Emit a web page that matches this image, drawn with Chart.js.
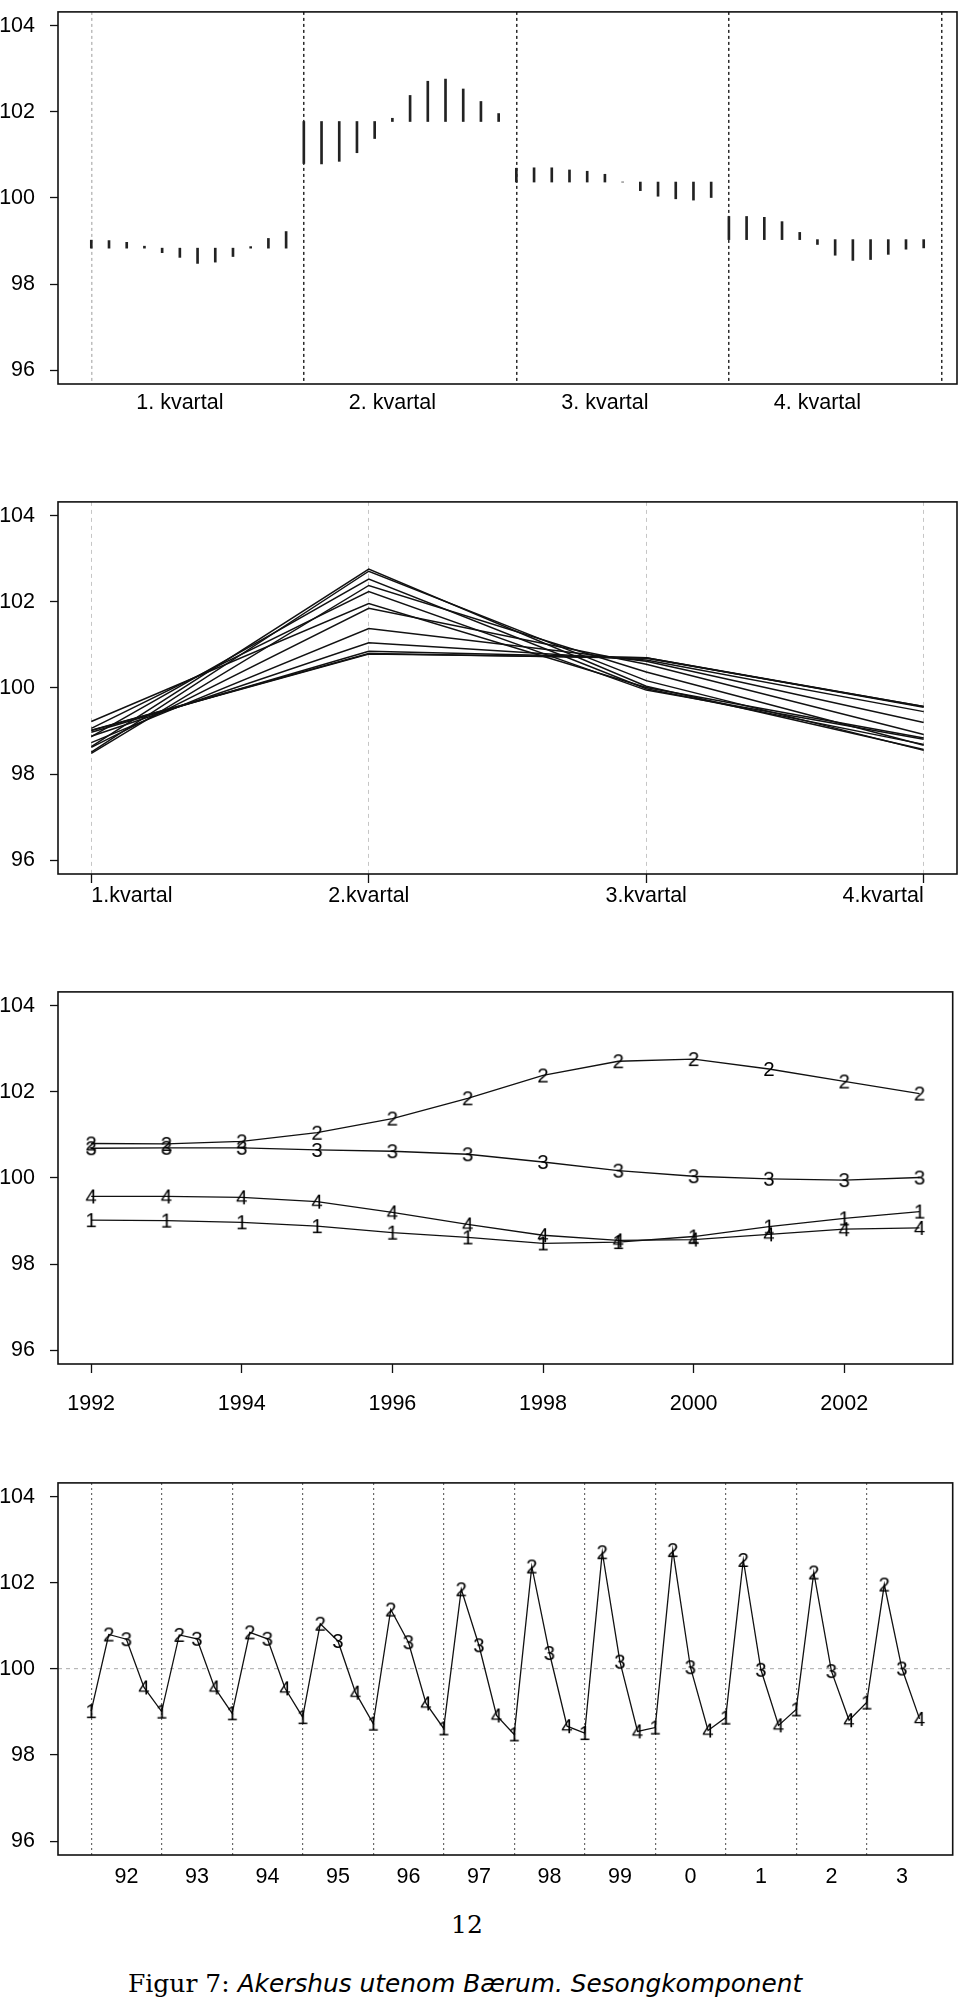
<!DOCTYPE html>
<html>
<head>
<meta charset="utf-8">
<title>Akershus utenom Bærum. Sesongkomponent</title>
<script src="https://cdn.jsdelivr.net/npm/chart.js@4.4.1/dist/chart.umd.min.js"></script>
<style>
  html, body { margin: 0; padding: 0; background: #fff; }
  #page { position: relative; width: 960px; height: 2004px; overflow: hidden; background: #fff; }
  canvas { position: absolute; left: 0; }
  .pageno {
    position: absolute; left: 0; width: 934px; top: 1910px;
    text-align: center; font: 25px "DejaVu Serif", serif; color: #000; line-height: 30px;
  }
  .caption {
    position: absolute; left: 128px; top: 1969px; white-space: nowrap;
    font: 25px "DejaVu Serif", serif; color: #000; line-height: 30px;
  }
  .caption i { font: oblique 24.8px "DejaVu Sans", sans-serif; }
</style>
</head>
<body>
<div id="page">
  <canvas id="cycle" width="960" height="440" style="top:-16px"></canvas>
  <canvas id="profiles" width="960" height="440" style="top:474px"></canvas>
  <canvas id="trends" width="960" height="470" style="top:964px"></canvas>
  <canvas id="series" width="960" height="440" style="top:1455px"></canvas>
  <div class="pageno">12</div>
  <div class="caption">Figur 7: <i>Akershus utenom Bærum. Sesongkomponent</i></div>
</div>
<script>
// seasonal factor per quarter, one value per year 1992-2003
const years = [1992, 1993, 1994, 1995, 1996, 1997, 1998, 1999, 2000, 2001, 2002, 2003];
const q1 = [99.02, 99.01, 98.97, 98.88, 98.73, 98.62, 98.48, 98.51, 98.64, 98.87, 99.06, 99.22];
const q2 = [100.80, 100.79, 100.85, 101.05, 101.38, 101.85, 102.38, 102.71, 102.76, 102.53, 102.24, 101.96];
const q3 = [100.69, 100.70, 100.70, 100.65, 100.62, 100.55, 100.37, 100.17, 100.04, 99.98, 99.95, 100.01];
const q4 = [99.57, 99.57, 99.55, 99.45, 99.20, 98.92, 98.67, 98.55, 98.57, 98.69, 98.81, 98.84];

const cycleLabels = ["1. kvartal", "2. kvartal", "3. kvartal", "4. kvartal"];
const quarterLabels = ["1.kvartal", "2.kvartal", "3.kvartal", "4.kvartal"];
const yearTicks = [1992, 1994, 1996, 1998, 2000, 2002];
const yearLabels = ["92", "93", "94", "95", "96", "97", "98", "99", "0", "1", "2", "3"];
const yTicks = [96, 98, 100, 102, 104];
const digits = ["1", "2", "3", "4"];

const INK = "#111";
const FONT = { family: "'Liberation Sans', Arial, sans-serif", size: 21.5 };
Chart.defaults.font.family = FONT.family;
Chart.defaults.color = "#000";

const quarters = [q1, q2, q3, q4];
const nYears = years.length;
const yPad = (yTicks[yTicks.length - 1] - yTicks[0]) * 0.04;
const yMin = yTicks[0] - yPad;
const yMax = yTicks[yTicks.length - 1] + yPad;

// box round the plot area
const framePlugin = {
  id: "frame",
  afterDraw(chart) {
    const { ctx, chartArea: a } = chart;
    ctx.save();
    ctx.strokeStyle = INK;
    ctx.lineWidth = 1.6;
    ctx.strokeRect(a.left, a.top, a.right - a.left, a.bottom - a.top);
    ctx.restore();
  },
};

function digitImage(d) {
  const c = document.createElement("canvas");
  c.width = 18;
  c.height = 24;
  const g = c.getContext("2d");
  g.font = "20.5px 'Liberation Sans', Arial, sans-serif";
  g.fillStyle = "#000";
  g.textAlign = "center";
  g.textBaseline = "middle";
  g.fillText(d, 9, 13);
  return c;
}
const digitImages = digits.map(digitImage);

function setTicks(values) {
  return (scale) => {
    scale.ticks = values.map((v) => ({ value: v }));
  };
}

function yAxis(grid) {
  return {
    type: "linear",
    min: yMin,
    max: yMax,
    bounds: "data",
    afterFit: (s) => { s.width = 58; },
    afterBuildTicks: setTicks(yTicks),
    ticks: { font: FONT, color: "#000", padding: 15 },
    border: { display: false, dash: grid ? grid.dash : [] },
    grid: Object.assign(
      { drawOnChartArea: false, tickLength: 8, tickColor: INK, tickWidth: 1.3, tickBorderDash: [] },
      grid || {}
    ),
  };
}

function labelAxis(min, max, values, labelFn, opts) {
  return {
    type: "linear",
    position: "bottom",
    min,
    max,
    bounds: "data",
    offset: false,
    afterFit: (s) => { s.height = opts.height; },
    afterBuildTicks: setTicks(values),
    ticks: {
      font: FONT,
      color: "#000",
      padding: opts.padding,
      autoSkip: false,
      maxRotation: 0,
      align: opts.align || "center",
      callback: labelFn,
    },
    border: { display: false, dash: opts.dash || [] },
    grid: {
      offset: false,
      display: opts.ticks || opts.grid ? true : false,
      drawTicks: !!opts.ticks,
      tickLength: 9,
      tickColor: INK,
      tickWidth: 1.3,
      tickBorderDash: [],
      drawOnChartArea: !!opts.grid,
      color: opts.grid || INK,
      lineWidth: 1,
    },
  };
}

function guideAxis(min, max, values, color, dash, width) {
  return {
    type: "linear",
    position: "bottom",
    min,
    max,
    bounds: "data",
    offset: false,
    afterFit: (s) => { s.height = 0; },
    afterBuildTicks: setTicks(values),
    ticks: { display: false },
    border: { display: false, dash },
    grid: { offset: false, drawTicks: false, color, lineWidth: width, borderDash: dash },
  };
}

function baseOptions(scales) {
  return {
    responsive: false,
    animation: false,
    events: [],
    layout: { padding: { top: 20, right: 3, left: 0, bottom: 0 } },
    plugins: { legend: { display: false }, tooltip: { enabled: false } },
    scales,
  };
}

// ---- panel 1: cycle plot, bars from the quarter mean ----
const idxMin = -(quarters.length * nYears - 1) * 0.04;
const idxMax = quarters.length * nYears - 1 - idxMin;
const means = quarters.map((q) => q.reduce((a, b) => a + b, 0) / q.length);
const cycleData = [];
quarters.forEach((q, qi) => {
  q.forEach((v, yi) => cycleData.push({ x: qi * nYears + yi, y: [means[qi], v] }));
});
const cycleLabelPos = quarters.map((_, qi) => qi * nYears + 5);
const cycleBreaks = [0, 1, 2, 3, 4].map((qi) => qi * nYears);

new Chart(document.getElementById("cycle"), {
  type: "bar",
  data: {
    datasets: [{
      data: cycleData,
      backgroundColor: "#222",
      borderWidth: 0,
      barThickness: 2,
      xAxisID: "x",
    }],
  },
  options: baseOptions({
    x: labelAxis(idxMin, idxMax, cycleLabelPos, (v, i) => cycleLabels[i], { height: 40, padding: 6 }),
    xg: guideAxis(idxMin, idxMax, cycleBreaks,
      (ctx) => (ctx.index === 0 ? "#bdbdbd" : "#2a2a2a"), [3, 3], 1.5),
    y: yAxis(),
  }),
  plugins: [framePlugin],
});

// ---- panel 2: one line per year across the quarters ----
const profileSets = years.map((yr, yi) => ({
  data: quarters.map((q, qi) => ({ x: qi + 1, y: q[yi] })),
  borderColor: INK,
  borderWidth: 1.5,
  pointRadius: 0,
  tension: 0,
}));

new Chart(document.getElementById("profiles"), {
  type: "line",
  data: { datasets: profileSets },
  options: baseOptions({
    x: labelAxis(1 - 0.12, 4 + 0.12, [1, 2, 3, 4], (v, i) => quarterLabels[i],
      { height: 40, padding: 0, ticks: true, grid: "#c6c6c6", dash: [4, 4], align: "inner" }),
    y: yAxis(),
  }),
  plugins: [framePlugin],
});

// ---- panel 3: each quarter over the years ----
const yearPad = (years[nYears - 1] - years[0]) * 0.04;
const trendSets = quarters.map((q, qi) => ({
  data: years.map((yr, yi) => ({ x: yr, y: q[yi] })),
  borderColor: INK,
  borderWidth: 1.3,
  pointStyle: digitImages[qi],
  pointRadius: 6,
  tension: 0,
}));

new Chart(document.getElementById("trends"), {
  type: "line",
  data: { datasets: trendSets },
  options: baseOptions({
    x: labelAxis(years[0] - yearPad, years[nYears - 1] + yearPad, yearTicks, (v) => String(v),
      { height: 70, padding: 18, ticks: true }),
    y: yAxis(),
  }),
  plugins: [framePlugin],
});

// ---- panel 4: the quarterly series ----
const seriesData = [];
years.forEach((yr, yi) => {
  quarters.forEach((q, qi) => seriesData.push({ x: yi * 4 + qi, y: q[yi] }));
});
const seriesLabelPos = years.map((_, yi) => yi * 4 + 2);
const seriesBreaks = years.map((_, yi) => yi * 4);

new Chart(document.getElementById("series"), {
  type: "line",
  data: {
    datasets: [{
      data: seriesData,
      borderColor: INK,
      borderWidth: 1.3,
      pointStyle: (ctx) => digitImages[ctx.dataIndex % 4],
      pointRadius: 6,
      tension: 0,
    }],
  },
  options: baseOptions({
    x: labelAxis(idxMin, idxMax, seriesLabelPos, (v, i) => yearLabels[i], { height: 40, padding: 9 }),
    xg: guideAxis(idxMin, idxMax, seriesBreaks, "#6a6a6a", [2, 3], 1.2),
    y: yAxis({
      drawOnChartArea: true,
      lineWidth: 1.2,
      dash: [4, 4],
      borderDash: [4, 4],
      color: (ctx) => (ctx.tick && ctx.tick.value === 100 ? "#b8b8b8" : "rgba(0,0,0,0)"),
    }),
  }),
  plugins: [framePlugin],
});
</script>
</body>
</html>
